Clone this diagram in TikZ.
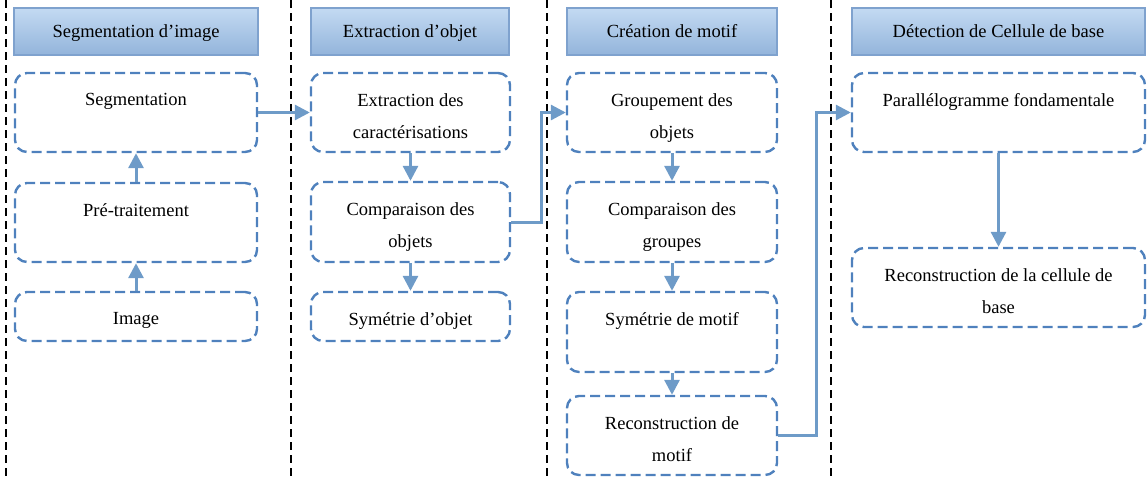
\documentclass[tikz,border=0pt]{standalone}
\usepackage{fontspec}
\setmainfont{Liberation Serif}
\usetikzlibrary{arrows.meta,calc}

\definecolor{boxblue}{HTML}{4F81BD}
\definecolor{arrblue}{HTML}{6E9BC8}
\definecolor{headtop}{HTML}{C3DAF2}
\definecolor{headbot}{HTML}{93B4DB}
\definecolor{headline}{HTML}{7FA2CE}

\tikzset{
  x=1pt, y=-1pt,
  header/.style={draw=headline, line width=2pt, top color=headtop, bottom color=headbot,
    inner sep=0pt, text height=14pt, text depth=3pt, font=\fontsize{18.5}{22}\selectfont},
  stagebox/.style={draw=boxblue, line width=2.4pt, dash pattern=on 10pt off 5pt,
    rounded corners=12pt, inner sep=0pt},
  txt/.style={inner sep=0pt, align=center, anchor=north, font=\fontsize{18.5}{32}\selectfont},
  arr/.style={draw=arrblue, line width=3pt, -{Triangle[length=15pt,width=15pt]}},
  sep/.style={draw=black, line width=1.8pt, dash pattern=on 8pt off 5pt},
}

% \stage{name}{x1}{y1}{x2}{y2}{text}
\newcommand{\stage}[6]{%
  \node[stagebox, minimum width=#4-#2, minimum height=#5-#3] (#1) at ({(#2+#4)/2},{(#3+#5)/2}) {};
  \node[txt] (#1-t) at ($(#1.north)+(0,21.5)$) {#6};
}
% \headbox{name}{x1}{x2}{text}
\newcommand{\headbox}[4]{%
  \node[header, minimum width=#3-#2, minimum height=47] (#1) at ({(#2+#3)/2},31.5) {#4};
}

\begin{document}
\begin{tikzpicture}
\useasboundingbox (0,0) rectangle (1148,480);

% column separators
\foreach \xx in {6,291,547,831} \draw[sep] (\xx,0) -- (\xx,480);

% column headers
\headbox{h1}{14}{258}{Segmentation d’image}
\headbox{h2}{311}{509}{Extraction d’objet}
\headbox{h3}{567}{777}{Création de motif}
\headbox{h4}{852}{1145}{Détection de Cellule de base}

% segmentation column
\stage{seg}{15}{73}{257}{152}{Segmentation}
\stage{pre}{15}{183}{257}{262}{Pré-traitement}
\stage{img}{15}{292}{257}{341}{Image}

% object extraction column
\stage{ext}{311}{73}{510}{152}{Extraction des\\caractérisations}
\stage{cmpo}{311}{182}{510}{262}{Comparaison des\\objets}
\stage{symo}{311}{292}{510}{341}{Symétrie d’objet}

% pattern creation column
\stage{grp}{567}{73}{777}{152}{Groupement des\\objets}
\stage{cmpg}{567}{182}{777}{262}{Comparaison des\\groupes}
\stage{symm}{567}{292}{777}{372}{Symétrie de motif}
\stage{recm}{567}{396}{777}{475}{Reconstruction de\\motif}

% base cell detection column
\stage{par}{852}{73}{1145}{152}{Parallélogramme fondamentale}
\stage{recc}{852}{248}{1145}{327}{Reconstruction de la cellule de\\base}

% flow within columns
\draw[arr] (img.north) -- (pre.south);
\draw[arr] (pre.north) -- (seg.south);
\draw[arr] (ext.south) -- (cmpo.north);
\draw[arr] (cmpo.south) -- (symo.north);
\draw[arr] (grp.south) -- (cmpg.north);
\draw[arr] (cmpg.south) -- (symm.north);
\draw[arr] (symm.south) -- (recm.north);
\draw[arr] (par.south) -- (recc.north);

% flow between columns
\draw[arr] (seg.east) -- (ext.west);
\draw[arr] (cmpo.east) -- ++(30,0) |- (grp.west);
\draw[arr] (recm.east) -- ++(38,0) |- (par.west);
\end{tikzpicture}
\end{document}
